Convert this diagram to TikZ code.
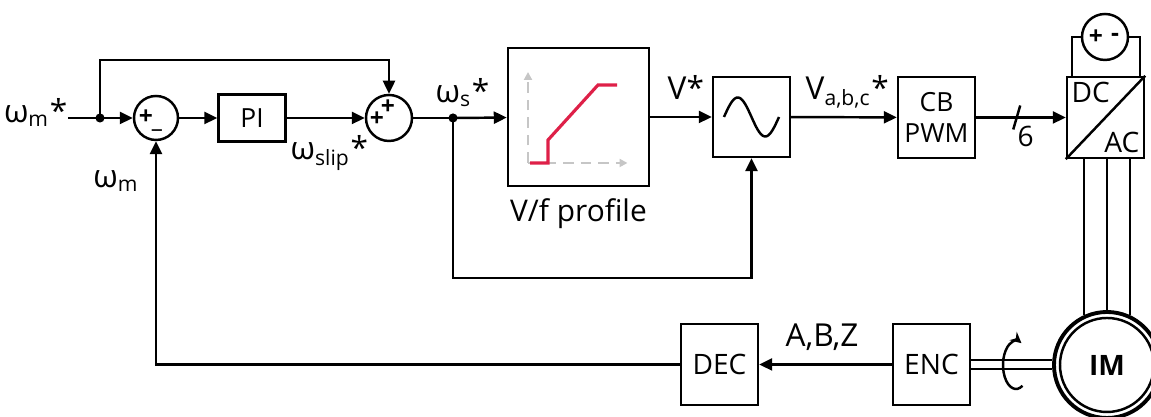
\documentclass[tikz,border=0pt]{standalone}
\usepackage{fontspec}
\setmainfont{Open Sans}
\usetikzlibrary{arrows.meta}

\definecolor{vfred}{RGB}{222,32,72}

\tikzset{
  block/.style={draw, line width=0.7pt, minimum width=0.77cm, minimum height=0.81cm,
    inner sep=1pt, align=center, font=\fontsize{8}{9}\selectfont},
  sumnode/.style={draw, circle, line width=0.7pt, minimum size=0.44cm, inner sep=0pt},
  sig/.style={line width=0.7pt, -{Triangle[length=1.3mm,width=1.2mm]}},
  wire/.style={line width=0.7pt},
  lbl/.style={inner sep=0pt, font=\fontsize{9}{10}\selectfont},
  sgn/.style={inner sep=0pt, font=\fontsize{7}{7}\bfseries},
}

\begin{document}
\begin{tikzpicture}
  \useasboundingbox (0,0) rectangle (11.51,4.17);
  \clip (0,0) rectangle (11.51,4.17);

  % Draw the blocks
  \node[sumnode] (sum1) at (1.56,2.99) {};
  \node[block, minimum width=0.67cm, minimum height=0.47cm, font=\fontsize{7.5}{8}\selectfont] (pi) at (2.52,2.99) {PI};
  \node[sumnode, minimum size=0.46cm] (sum2) at (3.89,2.99) {};
  \node[block, minimum width=1.41cm, minimum height=1.38cm] (vf) at (5.785,3.00) {};
  \node[block, minimum height=0.80cm] (sine) at (7.515,3.00) {};
  \node[block, font=\fontsize{7.5}{9}\selectfont] (pwm) at (9.365,2.995) {CB\\PWM};
  \node[block] (inv) at (11.055,2.995) {};
  \node[block] (enc) at (9.315,0.525) {ENC};
  \node[block] (dec) at (7.195,0.525) {DEC};
  \node[sumnode, minimum size=0.46cm] (src) at (11.05,3.80) {};

  % Draw the motor
  \node[draw, circle, line width=1.1pt, minimum size=1.06cm, inner sep=0pt] (motor) at (11.07,0.52) {};
  \node[draw, circle, line width=0.7pt, minimum size=0.94cm, inner sep=0pt,
    font=\fontsize{8}{9}\bfseries] at (motor) {IM};

  % Signs
  \node[sgn] at (1.46,3.00) {+};
  \node[sgn] at (1.57,2.88) {\_};
  \node[sgn] at (3.77,2.98) {+};
  \node[sgn] at (3.88,3.10) {+};
  \node[sgn] at ([xshift=-0.09cm]src.center) {+};
  \node[sgn] at ([xshift=0.10cm]src.center) {-};

  % Junctions
  \coordinate (in) at (0.68,2.99);
  \coordinate (j1) at (1.00,2.99);
  \coordinate (j2) at (4.53,2.99);
  \fill (j1) circle (1.3pt);
  \fill (j2) circle (1.3pt);

  % Forward path
  \draw[wire] (in) -- (j1);
  \draw[sig] (j1) -- (sum1);
  \draw[sig] (sum1) -- (pi);
  \draw[sig] (pi) -- (sum2);
  \draw[wire] (sum2) -- (j2);
  \draw[sig] (j2) -- (vf);
  \draw[sig] (vf) -- (sine);
  \draw[sig] (sine) -- (pwm);
  \draw[sig] (pwm) -- (inv);
  \draw[sig] (j1) -- ++(0,0.58) -| (sum2);
  \draw[sig] (j2) -- ++(0,-1.60) -| (sine);

  % Feedback path
  \draw[sig] (enc) -- (dec);
  \draw[sig] (dec) -| (sum1);

  % Inverter and source
  \draw[wire] (inv.south west) -- (inv.north east);
  \node[anchor=north west, inner sep=1.5pt, font=\fontsize{8}{9}\selectfont] at (inv.north west) {DC};
  \node[anchor=south east, inner sep=1.5pt, font=\fontsize{8}{9}\selectfont] at (inv.south east) {AC};
  \draw[wire] ([xshift=0.06cm]inv.north west) |- (src.west);
  \draw[wire] ([xshift=-0.05cm]inv.north east) |- (src.east);
  \foreach \a in {115,90,65}
    \draw[wire] (motor.\a) -- (motor.\a |- inv.south);

  % Shaft and rotation
  \draw[wire] ([yshift=0.045cm]enc.east) -- ([yshift=0.045cm]enc.east -| motor.west);
  \draw[wire] ([yshift=-0.045cm]enc.east) -- ([yshift=-0.045cm]enc.east -| motor.west);
  \draw[wire, -{Stealth[length=1.1mm,width=1.1mm]}] (10.16,0.52) ++(-60:0.13 and 0.24)
    arc[start angle=-60, end angle=-295, x radius=0.13, y radius=0.24];

  % Six gate signals
  \draw[wire] ([xshift=0.37cm,yshift=-0.12cm]pwm.east) -- ++(0.07,0.24);
  \node[anchor=base west, inner sep=0pt, font=\fontsize{8}{9}\selectfont] at (10.17,2.70) {6};

  % V/f profile
  \draw[gray!45, densely dashed, line width=0.6pt, -{Triangle[length=0.8mm,width=0.8mm]}]
    ([shift={(-0.505,-0.46)}]vf.center) -- ([shift={(-0.505,0.45)}]vf.center);
  \draw[gray!45, densely dashed, line width=0.6pt, -{Triangle[length=0.8mm,width=0.8mm]}]
    ([shift={(-0.505,-0.46)}]vf.center) -- ([shift={(0.49,-0.46)}]vf.center);
  \draw[vfred, line width=0.9pt, shift={(vf.center)}]
    (-0.485,-0.46) -- (-0.305,-0.46) -- (-0.305,-0.23) -- (0.195,0.32) -- (0.385,0.32);
  \node[anchor=base, inner sep=0pt, font=\fontsize{8.5}{9}\selectfont] at (5.785,1.95) {V/f profile};

  % Sine
  \draw[wire, shift={(sine.center)}] plot[domain=0:360, samples=40, smooth]
    ({(\x-180)/360*0.55}, {0.195*sin(\x)});

  % Labels
  \node[lbl, anchor=base east] at (0.68,2.94) {ω\textsubscript{m}*};
  \node[lbl, anchor=base east] at (1.40,2.29) {ω\textsubscript{m}};
  \node[lbl, anchor=base west] at (2.90,2.57) {ω\textsubscript{slip}*};
  \node[lbl, anchor=base west] at (4.35,3.14) {ω\textsubscript{s}*};
  \node[lbl, anchor=base west] at (6.67,3.17) {V*};
  \node[lbl, anchor=base west] at (8.05,3.17) {V\textsubscript{a,b,c}*};
  \node[lbl, anchor=base west] at (7.85,0.70) {A,B,Z};
\end{tikzpicture}
\end{document}
